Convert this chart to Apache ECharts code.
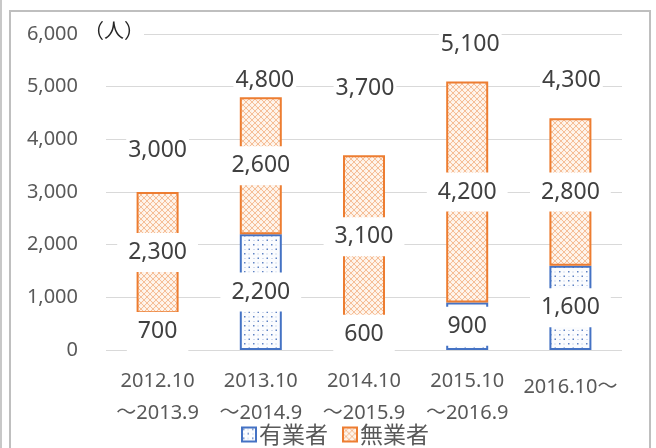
<!DOCTYPE html>
<html><head><meta charset="utf-8">
<script src="https://cdn.jsdelivr.net/npm/echarts@6/dist/echarts.min.js"></script>
<style>html,body{margin:0;padding:0;background:#fff;}#c{width:656px;height:448px;}</style>
</head><body><div id="c"></div>
<script>
const categories = ['2012.10\n～2013.9', '2013.10\n～2014.9', '2014.10\n～2015.9', '2015.10\n～2016.9', '2016.10～'];
const employed = [700, 2200, 600, 900, 1600];      // 有業者
const unemployed = [2300, 2600, 3100, 4200, 2800]; // 無業者
const totals = [3000, 4800, 3700, 5100, 4300];
const yTicks = [0, 1000, 2000, 3000, 4000, 5000, 6000];
const seriesNames = ['有業者', '無業者'];

function orangePattern() {
  const c = document.createElement('canvas'); c.width = 6; c.height = 6;
  const g = c.getContext('2d');
  g.fillStyle = '#FEF1E6'; g.fillRect(0, 0, 6, 6);
  g.strokeStyle = '#F5BE97'; g.lineWidth = 1;
  g.beginPath(); g.moveTo(0, 0); g.lineTo(6, 6); g.moveTo(6, 0); g.lineTo(0, 6); g.stroke();
  g.fillStyle = '#FFFFFF'; g.fillRect(2.5, 0, 1, 1); g.fillRect(0, 2.5, 1, 1);
  return c;
}
function bluePattern() {
  const c = document.createElement('canvas'); c.width = 9; c.height = 9;
  const g = c.getContext('2d');
  g.fillStyle = '#FBFCFE'; g.fillRect(0, 0, 9, 9);
  g.fillStyle = '#5F82C4';
  g.fillRect(1, 1, 1.5, 1.5); g.fillRect(5.5, 5.5, 1.5, 1.5);
  g.fillStyle = '#A9BCE0';
  g.fillRect(5.5, 1.5, 1, 1); g.fillRect(1.5, 6, 1, 1);
  return c;
}

const FONT = "'Noto Sans', 'Noto Sans CJK JP', sans-serif";
const midLabel = {
  show: true, position: 'inside', color: '#404040', fontSize: 23, fontFamily: FONT,
  backgroundColor: '#fff', padding: [8, 11],
  formatter: p => p.value.toLocaleString('en-US')
};
const totalOffsets = [[0, -42], [4, -17], [1, -67], [3, -37], [1, -43]];

const chart = echarts.init(document.getElementById('c'), null, {renderer: 'canvas'});
chart.setOption({
  animation: false,
  backgroundColor: '#fff',
  grid: {left: 106, right: 34, top: 34, bottom: 98},
  xAxis: {
    type: 'category',
    data: categories.map((c, i) => i === 4 ? {value: c, textStyle: {padding: [6, 0, 0, 0]}} : c),
    axisLine: {show: false}, axisTick: {show: false},
    axisLabel: {color: '#595959', fontSize: 20, lineHeight: 32, margin: 15, fontFamily: FONT, interval: 0}
  },
  yAxis: {
    type: 'value', min: yTicks[0], max: yTicks[yTicks.length - 1], interval: 1000,
    axisLine: {show: false}, axisTick: {show: false},
    axisLabel: {color: '#595959', fontSize: 20, margin: 28, fontFamily: FONT,
      formatter: v => v.toLocaleString('en-US')},
    splitLine: {lineStyle: {color: '#D9D9D9', width: 1}}
  },
  legend: {
    data: seriesNames, left: 236, top: 418, itemWidth: 14, itemHeight: 14, itemGap: 14,
    icon: 'rect',
    textStyle: {color: '#595959', fontSize: 23, fontFamily: "'Noto Sans CJK JP', sans-serif", padding: [0, 0, 0, -2]}
  },
  series: [
    {
      name: seriesNames[0], type: 'bar', stack: 'a', barWidth: 42, data: employed,
      itemStyle: {color: {image: bluePattern(), repeat: 'repeat'}, borderColor: '#4472C4', borderWidth: 2},
      label: midLabel
    },
    {
      name: seriesNames[1], type: 'bar', stack: 'a', barWidth: 42, data: unemployed,
      itemStyle: {color: {image: orangePattern(), repeat: 'repeat'}, borderColor: '#ED7D31', borderWidth: 2},
      label: midLabel
    },
    {
      name: 'total', type: 'line', data: totals.map((v, i) => ({value: v, label: {offset: totalOffsets[i]}})),
      symbol: 'circle', symbolSize: 0.1, lineStyle: {width: 0, opacity: 0},
      itemStyle: {color: 'rgba(0,0,0,0)'}, z: 10,
      label: {show: true, position: 'inside', color: '#404040', fontSize: 23, fontFamily: FONT,
        backgroundColor: '#fff', padding: [0, 2],
        formatter: p => p.value.toLocaleString('en-US')}
    }
  ],
  graphic: [
    {type: 'rect', shape: {x: 10, y: 11, width: 640, height: 460}, style: {fill: 'none', stroke: '#BFBFBF', lineWidth: 2}, silent: true},
    {type: 'line', shape: {x1: 1, y1: 0, x2: 1, y2: 448}, style: {stroke: '#C8C8C8', lineWidth: 2}, silent: true},
    {type: 'text', left: 84, top: 20, z: 20,
      style: {text: '（人）', fill: '#262626', fontSize: 20, fontFamily: "'Noto Sans CJK JP', sans-serif", backgroundColor: '#fff'}}
  ]
});
</script></body></html>
